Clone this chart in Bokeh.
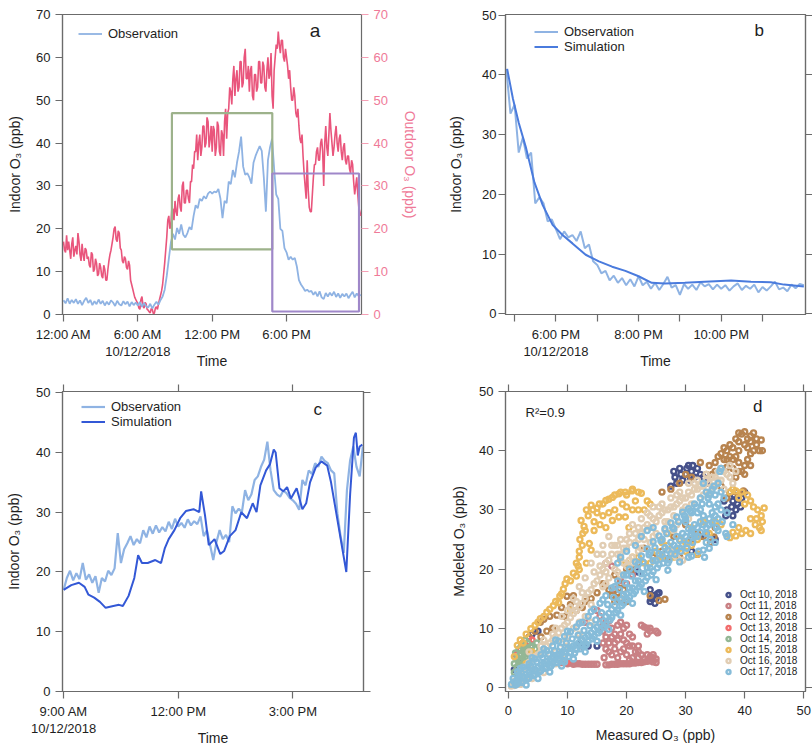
from bokeh.plotting import figure
from bokeh.models import Range1d, LinearAxis, FixedTicker, Legend, LegendItem, Label
from bokeh.layouts import row, column
from bokeh.embed import file_html
from bokeh.resources import INLINE

FONT = "Liberation Sans"
C_OBS = "#8fb3e3"
C_SIM_B = "#4a7bdd"
C_SIM_C = "#3358d6"
C_OUT = "#e9557c"
C_OUT_AX = "#ef7a98"
C_GREEN = "#9db28b"
C_PURPLE = "#9f87c9"
C_FRAME = "#6b6b6b"
C_TEXT = "#1e1e1e"

# ---------------- data ----------------
# panel a: indoor, 10-minute samples from 12:00 AM (hours), Oct 12 2018
a_in_step_h = 1.0 / 6.0
indoor_a = [
    3.3, 2.6, 3.8, 2.5, 3.4, 2.7,
    3.6, 2.5, 3.3, 2.2, 3.2, 3.9,
    2.7, 3.4, 2.2, 3.1, 2.4, 3.5,
    2.5, 3.2, 2.1, 3.0, 2.3, 3.3,
    2.8, 2.0, 3.2, 2.4, 2.1, 3.1,
    2.4, 3.0, 1.9, 2.9, 2.2, 2.8,
    2.1, 2.9, 1.8, 2.7, 1.9, 1.6,
    2.5, 1.4, 2.3, 3.0, 2.3, 3.4,
    4.2, 5.8, 9.0, 13.0, 16.8, 18.8,
    17.5, 20.2, 18.8, 21.0, 18.6, 18.0,
    19.0, 20.4, 19.8, 23.0, 25.5, 24.8,
    27.0, 26.5, 27.6, 27.0, 28.2, 28.7,
    28.2, 28.7, 28.5, 29.3, 27.0, 22.5,
    26.5, 26.0, 31.0, 30.4, 33.7, 32.0,
    35.4, 38.0, 41.5, 34.5, 32.6, 33.0,
    32.0, 30.5, 35.4, 37.0, 38.2, 39.3,
    38.2, 32.0, 24.0, 36.0, 39.0, 41.0,
    34.0, 28.0, 27.0, 20.0, 19.5, 15.5,
    14.5, 12.8, 13.5, 12.8, 13.2, 11.2,
    8.0, 7.0, 6.3, 5.5, 5.8, 5.3,
    5.5, 4.6, 5.3, 4.2, 5.4, 4.0,
    3.6, 5.0, 4.2, 5.1, 4.4, 5.3,
    4.1, 4.9, 3.9, 4.8, 4.2, 4.9,
    3.8, 4.6, 5.3, 4.0, 4.9, 4.3,
    4.6]
# panel a: outdoor, 5-minute samples from 12:00 AM
a_out_step_h = 1.0 / 12.0
outdoor_a = [
    17, 15, 14.5, 18.5, 15, 17, 15, 13, 16.5, 18, 13.5, 15,
    16, 14, 19, 17, 14, 12.5, 16.5, 14, 12.5, 15.5, 15, 13,
    13.5, 11.5, 11, 14.5, 14, 10, 10.5, 13, 12, 9, 9.5, 12,
    11, 9, 8.5, 11.5, 10.5, 8, 8, 10.5, 12.5, 14, 15, 16.5,
    18, 20, 20.5, 17.5, 17, 19.5, 19, 15.5, 15, 12.5, 12, 13.5,
    13, 11, 10.5, 12.5, 11.5, 8, 7, 6, 5, 4, 3.5, 3,
    2.5, 1.5, 1.2, 3.5, 4.2, 2, 1.5, 2.8, 2.5, 1.2, 1.0, 0.6,
    0.4, 1.4, 1.2, 0.2, 0.3, 1.5, 1.8, 1.2, 2.5, 3.5, 4.5, 5.5,
    7, 9.5, 12, 15, 18, 22, 23, 20, 21, 25, 24.5, 22,
    26.5, 24, 23, 27, 28, 25, 24, 30, 31, 26, 26, 29,
    29, 27, 26, 31, 31, 35, 34, 38, 38, 42, 36, 40,
    42, 37, 39, 44, 44, 39, 40, 46, 45, 39, 41, 44,
    38, 44, 43, 37, 39, 45, 44, 38, 37, 43, 42, 37,
    45, 48, 41, 47, 48, 53, 52, 49, 55, 58, 51, 55,
    57, 52, 53, 59, 59, 53, 54, 60, 62, 55, 55, 58,
    52, 57, 58, 51, 50, 56, 56, 52, 53, 59, 59, 54,
    54, 59, 58, 53, 52, 57, 60, 55, 56, 61, 51, 48,
    57, 60, 63, 62, 66, 63, 61, 64, 64, 60, 59, 62,
    60, 58, 55, 57, 53, 50, 50, 53, 51, 47, 46, 48,
    44, 41, 40, 42, 37, 33, 30, 27, 36, 29, 25, 24,
    24, 28, 32, 35, 35, 38, 39, 36, 36, 40, 41, 38,
    30, 40, 44, 39, 37, 42, 47, 43, 40, 37, 39, 42,
    44, 40, 38, 41, 42, 38, 36, 39, 40, 36, 35, 37,
    37, 34, 33, 36, 35, 31, 28, 30, 32, 28, 25, 24,
    23]
# highlighted windows (panel c window, panel b window)
box_left = [8.75, 16.85]
box_right = [16.85, 23.85]
box_bottom = [15.2, 0.7]
box_top = [47.0, 32.9]

# panel b: observation, 6-minute samples from 16.8 h
b_start_h = 16.8
b_step_h = 0.1
obs_b = [41, 33.5, 35, 27, 29.5, 26, 27, 18.5, 19.5, 18.5, 15.5, 15.8, 14.2, 12.5, 13.8,
         12.8, 13.2, 12.2, 13.8, 11, 11.6, 8.8, 8.2, 6.8, 7.2, 5.6, 6.4, 5.2, 6.0, 4.8,
         5.8, 4.6, 6.3, 4.8, 5.4, 4.2, 5.2, 4.0, 5.0, 6.2, 4.4, 4.8, 3.2, 5.0, 4.2, 4.9,
         4.0, 5.3, 4.6, 5.0, 4.1, 4.9, 4.2, 4.8, 3.9, 4.6, 5.1, 4.0, 4.7, 4.2, 4.9, 3.6,
         4.5, 3.9, 4.6, 5.4, 4.1, 4.4, 3.8, 4.9, 4.3, 5.0, 4.8]
sim_b = [(16.82, 41), (16.96, 36), (17.1, 32), (17.28, 27.7), (17.48, 22), (17.68, 18.2),
         (17.92, 14.9), (18.16, 13.2), (18.4, 11.8), (18.72, 9.9), (19.04, 8.8), (19.36, 7.9),
         (19.68, 7.2), (20.0, 6.3), (20.32, 5.2), (20.64, 5.1), (21.12, 5.2), (21.6, 5.4),
         (22.24, 5.6), (22.72, 5.4), (23.2, 5.3), (23.52, 4.9), (24.0, 4.6)]

# panel c: observation, 5-minute samples from 9:00 AM
c_start_h = 9.0
c_step_h = 1.0 / 12.0
obs_c = [17.0, 19.0, 20.2, 18.6, 19.8, 18.8, 21.5, 18.7, 19.6, 18.2, 19.3, 16.5,
         19.0, 18.4, 20.2, 19.5, 20.6, 26.5, 21.5, 23.8, 24.8, 26.0, 24.5, 25.5,
         24.8, 27.0, 25.8, 27.6, 26.4, 27.8, 26.6, 27.5, 26.8, 28.4, 27.2, 28.9,
         27.6, 28.2, 27.4, 28.8, 27.8, 28.5, 28.0, 29.3, 26.0, 27.0, 24.5, 22.0,
         25.0, 27.0, 25.5, 26.2, 25.0, 31.0, 29.8, 30.6, 30.0, 33.7, 32.0, 33.0,
         35.4, 36.0, 37.6, 38.8, 41.8, 37.0, 33.7, 33.0, 32.6, 33.6, 33.2, 32.4,
         32.0, 31.4, 30.4, 35.4, 34.5, 37.0, 36.4, 38.2, 37.6, 39.3, 38.6, 38.2,
         37.0, 36.5, 29.8, 26.0, 23.2, 33.7, 38.7, 41.0, 37.6, 36.0, 41.0]
sim_c = [(9.0, 17.0), (9.2, 17.8), (9.4, 18.2), (9.55, 17.5), (9.65, 16.2), (9.8, 15.7),
         (9.95, 15.0), (10.1, 14.0), (10.3, 14.3), (10.45, 14.5), (10.55, 14.3), (10.7, 16.0),
         (10.85, 19.0), (10.95, 22.8), (11.05, 21.5), (11.2, 21.5), (11.4, 22.0), (11.55, 21.5),
         (11.65, 24.0), (11.75, 25.5), (11.9, 27.0), (12.05, 29.0), (12.2, 30.2), (12.4, 30.5),
         (12.55, 30.0), (12.6, 33.5), (12.7, 29.5), (12.8, 24.5), (12.95, 25.5), (13.1, 23.0),
         (13.2, 23.5), (13.35, 26.0), (13.5, 27.0), (13.65, 30.0), (13.8, 29.0), (13.95, 31.5),
         (14.05, 30.0), (14.15, 34.5), (14.3, 37.0), (14.4, 38.0), (14.5, 40.5), (14.55, 40.0),
         (14.65, 34.0), (14.75, 33.5), (14.85, 34.2), (14.95, 32.3), (15.1, 34.0), (15.25, 30.5),
         (15.35, 31.5), (15.45, 35.0), (15.6, 37.5), (15.75, 38.5), (15.9, 37.8), (16.0, 35.0),
         (16.2, 27.5), (16.4, 20.0), (16.5, 33.0), (16.6, 42.5), (16.65, 43.3), (16.7, 39.5),
         (16.75, 41.0), (16.82, 41.3)]

# panel d: (measured, modeled) ppb
oct10 = [(28.0, 36.5), (29.0, 37.0), (30.0, 36.0), (30.5, 37.5), (31.0, 36.5), (32.0, 37.0), (29.5, 35.0),
         (31.5, 35.5), (28.5, 34.5), (33.0, 35.5), (27.5, 34.0), (37.5, 33.0), (38.0, 31.5), (38.5, 30.0),
         (39.0, 32.5), (39.5, 32.0), (37.0, 30.0), (36.5, 31.5), (38.0, 29.0), (40.0, 33.0), (24.0, 14.5),
         (24.5, 15.5), (25.0, 15.0), (25.5, 16.0), (24.0, 16.5), (12.5, 7.0), (13.0, 7.2), (15.0, 7.0),
         (5.0, 9.5), (4.0, 9.0), (1.0, 3.0), (2.0, 4.0), (3.0, 5.0), (32.0, 22.5), (31.0, 23.0),
         (32.5, 25.5), (33.5, 26.0), (21.0, 20.0), (22.0, 19.5), (35.0, 25.0),
         (28.2, 35.5), (29.2, 36.0), (30.2, 37.0), (31.2, 37.5), (32.5, 36.0), (33.5, 34.5), (30.8, 35.0),
         (38.2, 32.5), (38.8, 31.0), (39.3, 30.5), (37.8, 30.5), (36.8, 29.0), (24.2, 15.0), (25.2, 15.8),
         (24.8, 14.2), (13.5, 7.0), (12.0, 7.2)]
oct11 = [(9.0, 4.2), (10.0, 4.0), (11.0, 3.9), (12.0, 4.0), (13.0, 3.9), (14.0, 3.9), (15.0, 3.9),
         (16.5, 3.8), (17.0, 3.8), (18.0, 3.9), (19.0, 4.0), (20.0, 4.0), (21.0, 4.1), (22.0, 4.2),
         (23.0, 4.3), (24.0, 4.5), (25.0, 4.2), (24.5, 5.0), (16.0, 9.5), (16.5, 8.5), (17.0, 7.5),
         (17.5, 10.0), (18.0, 9.0), (18.5, 10.5), (19.0, 11.0), (19.5, 10.0), (20.0, 10.5), (18.0, 6.5),
         (19.0, 6.0), (20.0, 5.5), (21.0, 5.0), (22.0, 5.0), (23.0, 4.8), (24.0, 5.2), (20.5, 7.0),
         (19.5, 8.0), (17.0, 6.0), (22.0, 6.0), (23.0, 10.2), (24.0, 9.5), (25.0, 9.5), (23.5, 10.0),
         (21.0, 7.0), (19.0, 18.0), (21.0, 19.0), (15.0, 13.0), (13.0, 11.0), (17.5, 20.5),
         (16.5, 21.0), (18.5, 5.0), (20.5, 4.6),
         (16.0, 10.5), (16.5, 11.0), (17.0, 11.2), (17.5, 8.5), (18.0, 7.5), (18.5, 8.0), (19.0, 9.0),
         (19.5, 6.5), (20.0, 7.5), (20.5, 9.0), (21.0, 8.5), (21.5, 6.0), (22.0, 7.0), (22.5, 5.5),
         (23.5, 5.5), (24.5, 5.5), (25.0, 4.8), (17.5, 5.5), (16.5, 6.5), (16.0, 7.5), (24.0, 10.0),
         (25.3, 9.2), (22.5, 10.5), (23.5, 9.0), (16.2, 5.0), (10.5, 4.1), (11.5, 4.0), (12.5, 3.9),
         (13.5, 3.9), (14.5, 3.9), (17.5, 3.9), (18.5, 3.9), (19.5, 4.0), (20.5, 4.0), (21.5, 4.1),
         (22.5, 4.2), (23.5, 4.4), (24.5, 4.3), (15.5, 12.0), (18.0, 16.5), (20.0, 17.5)]
oct12 = [(34.0, 37.5), (35.0, 38.0), (36.0, 39.5), (37.0, 40.0), (37.5, 41.0), (38.0, 40.5), (38.5, 39.0),
         (39.0, 41.5), (39.5, 42.8), (40.0, 43.2), (40.5, 42.0), (41.0, 41.5), (41.5, 43.0), (42.0, 41.0),
         (42.5, 40.0), (39.0, 38.0), (40.0, 37.5), (38.0, 37.0), (37.0, 37.2), (36.5, 38.5), (41.0, 39.5),
         (39.5, 36.5), (40.5, 38.5), (38.5, 35.5), (32.5, 38.0), (31.0, 35.5), (30.0, 36.0), (29.0, 34.5),
         (27.5, 33.5), (26.0, 33.0), (26.5, 14.9), (24.0, 15.5), (25.5, 14.7), (19.0, 15.0), (18.5, 16.0),
         (20.0, 14.5), (19.5, 16.5), (18.0, 14.5), (17.5, 15.5), (5.4, 11.0), (6.0, 11.5), (7.0, 12.0),
         (8.2, 12.2), (9.0, 13.5), (9.9, 15.4), (11.0, 15.5), (12.5, 13.5), (4.5, 9.5), (3.5, 8.5),
         (21.0, 20.0), (24.5, 22.0), (26.0, 23.0), (27.0, 21.8), (29.0, 22.0), (31.0, 25.0), (32.0, 26.0),
         (35.0, 27.0), (34.2, 24.5), (34.8, 25.4), (33.0, 25.5), (30.0, 27.5), (28.0, 25.5), (37.0, 32.0),
         (38.5, 33.0), (39.8, 33.2), (36.0, 34.0),
         (35.5, 39.0), (36.5, 40.5), (37.5, 39.0), (38.5, 42.0), (39.0, 43.0), (40.0, 41.0), (41.0, 42.5),
         (42.0, 42.0), (41.5, 40.0), (40.5, 40.5), (39.0, 40.0), (38.0, 38.5), (37.0, 38.5), (36.0, 37.0),
         (35.0, 36.5), (34.5, 36.0), (33.5, 36.0), (42.8, 41.8), (43.0, 40.0), (40.0, 36.0), (41.0, 37.5),
         (39.0, 36.5), (14.0, 15.0), (15.0, 16.0), (16.0, 17.5), (18.0, 19.0), (20.0, 20.0), (22.0, 21.0),
         (23.0, 23.5), (19.0, 17.5), (17.0, 16.5), (10.5, 14.0), (11.5, 13.0), (13.0, 14.5), (7.5, 10.0),
         (6.5, 9.5), (9.5, 12.0), (5.5, 8.5)]
oct13 = [(2.5, 7.5), (3.0, 7.0), (3.5, 7.5), (2.0, 6.5), (1.3, 5.5), (3.0, 6.0), (4.0, 8.0), (9.9, 4.3)]
oct14 = [(1.0, 4.0), (1.5, 5.0), (2.0, 5.5), (2.5, 6.0), (3.0, 6.5), (2.0, 4.5), (3.0, 5.0), (3.5, 6.0),
         (1.5, 3.5), (4.0, 7.0), (2.5, 7.0), (1.0, 2.5), (3.5, 4.5), (4.5, 6.5), (2.8, 8.0),
         (1.2, 5.8), (1.8, 6.5), (2.2, 7.0), (2.8, 6.2), (3.2, 7.5), (3.8, 6.8), (1.8, 4.0), (2.5, 5.0),
         (4.2, 5.5), (4.8, 7.5)]
oct15 = [(1.0, 5.2), (1.5, 7.1), (3.8, 9.9), (5.4, 11.6), (6.5, 12.7), (7.6, 13.8), (8.5, 14.3), (8.7, 15.4),
         (9.3, 16.6), (9.9, 18.3), (11.0, 19.3), (11.5, 21.0), (12.0, 22.0), (12.6, 26.0), (12.3, 28.2),
         (13.2, 30.0), (14.3, 30.0), (15.4, 31.0), (16.5, 31.6), (17.6, 32.1), (18.7, 32.7), (19.8, 33.0),
         (20.9, 33.2), (22.0, 33.0), (19.3, 31.0), (18.7, 28.8), (17.6, 28.2), (16.5, 27.0), (20.4, 27.0),
         (19.8, 28.8), (21.0, 30.0), (13.7, 24.3), (14.0, 23.2), (11.5, 18.8), (12.0, 19.9), (13.2, 21.0),
         (12.1, 25.0), (12.8, 27.2), (37.5, 33.0), (38.5, 33.2), (39.5, 33.0), (40.5, 32.5), (41.0, 31.5),
         (41.5, 30.5), (42.2, 30.0), (42.8, 29.0), (43.3, 30.3), (43.0, 28.0), (42.5, 27.0), (41.8, 27.5),
         (41.0, 26.0), (40.2, 26.5), (39.5, 26.0), (38.5, 25.6), (38.0, 26.2), (37.5, 25.3), (42.8, 26.5),
         (24.0, 21.0), (26.0, 22.0), (28.0, 22.0), (29.0, 23.5), (30.0, 23.0), (31.0, 24.0), (32.0, 25.0),
         (27.0, 24.0), (25.0, 23.0), (22.0, 22.0), (20.0, 21.0), (2.0, 2.0), (3.0, 4.0), (4.0, 6.0),
         (10.5, 13.0), (14.5, 26.5), (15.0, 29.5), (16.0, 29.0),
         (13.5, 29.0), (14.0, 30.8), (15.0, 30.3), (16.0, 31.0), (17.0, 31.8), (18.0, 32.5), (19.0, 33.0),
         (20.0, 32.5), (21.0, 33.5), (22.5, 32.8), (23.5, 31.5), (21.5, 31.5), (20.0, 30.5), (18.0, 30.0),
         (17.0, 29.5), (15.5, 27.5), (14.5, 28.0), (13.0, 26.5), (12.5, 24.0), (12.0, 23.0), (11.8, 20.5),
         (10.5, 18.0), (9.6, 17.5), (9.0, 15.8), (8.0, 14.5), (7.0, 13.2), (6.0, 12.0), (5.0, 11.0),
         (4.5, 10.5), (3.0, 9.0), (2.0, 8.0), (2.5, 7.5), (22.0, 30.0), (23.0, 30.0), (24.0, 31.0),
         (27.0, 26.0), (29.0, 25.0), (31.0, 27.0), (33.0, 28.0), (35.0, 28.0), (36.0, 27.5), (26.0, 24.5),
         (28.0, 23.0), (30.0, 24.5), (32.0, 22.5), (34.0, 26.0), (25.0, 21.5), (23.0, 21.0), (21.0, 22.0),
         (19.0, 21.5), (39.0, 32.0), (40.0, 31.0), (42.0, 28.5), (41.0, 28.5), (39.0, 27.0), (38.0, 33.5)]
oct16 = [(1, 1), (2, 2.5), (3, 3.5), (4, 4.8), (5, 5.5), (6, 6.5), (7, 7.5), (8, 8.5), (9, 10), (10, 11),
         (11, 12.5), (12, 13.5), (13, 15), (14, 16.5), (15, 18), (15.5, 20.5), (16, 22.5), (16.5, 19.5),
         (17, 21.5), (17.5, 24), (18, 20), (18.5, 22.5), (19, 25), (19.5, 21), (20, 23.5), (20.5, 26),
         (21, 22), (21.5, 24.5), (22, 27), (22.5, 28.5), (23, 25), (23.5, 29.5), (24, 27), (24.5, 30.5),
         (25, 26), (25.5, 29), (26, 31), (26.5, 28), (27, 30), (27.5, 32), (28, 29), (28.5, 31), (29, 33),
         (29.5, 30), (30, 32), (30.5, 34.5), (31, 31), (31.5, 33.5), (32, 35), (32.5, 32), (33, 34),
         (33.5, 36), (34, 33), (34.5, 35.5), (35, 34), (35.5, 36.5), (36, 35), (37, 36), (37.5, 37.5),
         (38.5, 36.5), (38, 34.5), (36.5, 33.5), (3, 1.5), (4, 3), (5, 2.5), (6, 4), (7, 5.5), (8, 6),
         (9, 7.5), (10, 8.5), (11, 10), (12, 11), (13, 12), (14, 14), (2, 0.5), (1.5, 0.5), (12.5, 16),
         (11.5, 14.5), (10.5, 13.5), (14.5, 19.5), (28, 26.5), (26, 25), (24, 24.5), (22, 23), (3.5, 6),
         (5.5, 7), (7.5, 9), (16, 17), (18, 17), (28.5, 22), (29.5, 21.5), (27.5, 23),
         (6, 8), (8, 10), (9, 12), (10, 13), (11, 15), (12, 17), (13, 18.5), (14, 21), (15, 22.5), (16, 24),
         (17, 25.5), (16, 20), (17, 18.5), (18, 24), (19, 22.5), (20, 25), (21, 27.5), (19, 19), (20, 20.5),
         (21, 21), (22, 25), (23, 27), (24, 29), (25, 28), (26, 29.5), (27, 28), (28, 30.5), (29, 31.5),
         (30, 30.5), (31, 32.5), (32, 33.5), (33, 32.5), (34, 34.5), (35, 35.5), (36, 36.5), (8, 4),
         (10, 7), (12, 9), (14, 11), (4, 1.5), (6, 2.5), (1, 0.3), (2.5, 1.2), (3.5, 2), (7, 3.5), (9, 5),
         (0.5, 0.2),
         (2.5, 3.0), (3.5, 4.2), (4.5, 5.2), (5.5, 6.0), (6.5, 7.0), (7.5, 8.0), (8.5, 9.2), (9.5, 10.5),
         (10.5, 11.8), (11.5, 13.0), (12.5, 14.2), (13.5, 16.0), (14.5, 17.5), (15.5, 19.0), (16.5, 21.0),
         (17.5, 22.5), (18.5, 24.0), (19.5, 23.5), (20.5, 24.5), (21.5, 26.0), (22.5, 26.0), (23.5, 27.5),
         (24.5, 28.5), (25.5, 30.5), (26.5, 30.0), (27.5, 30.5), (28.5, 32.5), (29.5, 32.0), (30.5, 33.0),
         (31.5, 34.5), (32.5, 34.0), (33.5, 35.0), (34.5, 34.0), (35.5, 35.0), (36.5, 36.5), (37.5, 35.5),
         (16.5, 17.5), (18.5, 19.5), (20.5, 21.5), (22.5, 23.5), (24.5, 25.5), (26.5, 26.5), (28.5, 27.5),
         (30.5, 28.5)]
oct17 = [(0.5, 0.5), (0.8, 1.5), (1.2, 0.4), (1.5, 1.2), (1.8, 2.2), (2.2, 0.8), (2.5, 1.8), (2.8, 3.0),
         (3.2, 1.4), (3.5, 2.5), (3.8, 3.6), (4.2, 2.0), (4.5, 3.0), (4.8, 4.3), (5.2, 2.6), (5.5, 3.8),
         (5.8, 5.0), (6.2, 3.2), (6.5, 4.4), (6.8, 5.6), (7.2, 3.6), (7.5, 5.0), (7.8, 6.2), (8.2, 4.2),
         (8.5, 5.5), (8.8, 6.8), (9.2, 4.6), (9.5, 6.0), (9.8, 7.5), (10.2, 5.2), (10.5, 6.6), (10.8, 8.2),
         (11.2, 5.8), (11.5, 7.2), (11.8, 8.8), (12.2, 6.5), (12.5, 8.0), (12.8, 9.6), (13.2, 7.3),
         (13.5, 8.8), (13.8, 10.4), (14.2, 8.2), (14.5, 9.8), (14.8, 11.4), (15.2, 9.2), (15.5, 10.8),
         (15.8, 12.6), (16.2, 10.2), (16.5, 12.0), (16.8, 14.0), (17.2, 11.4), (17.5, 13.2), (17.8, 15.2),
         (18.2, 12.6), (18.5, 14.5), (18.8, 16.5), (19.2, 13.8), (19.5, 15.6), (19.8, 17.6), (20.2, 14.8),
         (20.5, 16.8), (20.8, 18.8), (21.2, 15.8), (21.5, 18.0), (21.8, 20.0), (22.2, 17.0), (22.5, 19.2),
         (22.8, 21.2), (23.2, 18.0), (23.5, 20.2), (23.8, 22.4), (24.2, 19.0), (24.5, 21.4), (24.8, 23.6),
         (25.2, 20.2), (25.5, 22.6), (25.8, 24.8), (26.2, 21.0), (26.5, 23.6), (26.8, 26.0), (27.2, 21.5),
         (27.5, 24.5), (27.8, 27.0), (28.2, 22.5), (28.5, 25.5), (28.8, 28.0), (29.2, 23.0), (29.5, 26.0),
         (29.8, 29.0), (30.2, 23.5), (30.5, 26.8), (30.8, 29.8), (31.2, 24.5), (31.5, 27.5), (31.8, 30.5),
         (32.2, 23.0), (32.5, 28.0), (32.8, 31.0), (33.2, 22.0), (33.5, 26.0), (33.8, 32.0), (34.2, 25.0),
         (34.5, 29.5), (34.8, 34.0), (35.2, 27.0), (35.5, 31.0), (35.8, 36.5), (36.2, 28.0), (36.8, 26.0),
         (34.0, 23.5), (30.5, 22.0), (27.0, 21.0), (9.5, 4.3), (13.0, 7.0), (38.0, 27.5), (37.0, 25.5),
         (30.0, 28.0), (31.0, 29.5), (32.0, 27.0), (33.0, 29.0), (34.0, 31.0), (35.0, 29.0), (36.0, 30.0),
         (36.5, 32.0), (37.0, 29.5), (34.0, 27.5), (32.5, 30.0), (31.0, 26.0), (33.5, 24.5), (35.5, 26.5),
         (22.5, 25.5), (23.5, 26.5), (24.5, 27.0), (21.5, 24.0), (19.0, 22.0), (18.5, 21.0), (20.0, 23.0),
         (35.0, 32.5), (33.0, 34.5), (36.0, 37.0),
         (1.0, 0.9), (2.0, 1.5), (3.0, 2.2), (4.0, 2.8), (5.0, 3.4), (6.0, 4.0), (7.0, 4.6), (8.0, 5.2),
         (9.0, 5.8), (10.0, 6.5), (11.0, 7.0), (12.0, 7.6), (13.0, 8.4), (14.0, 9.2), (15.0, 10.2),
         (16.0, 11.2), (17.0, 12.5), (18.0, 13.8), (19.0, 14.8), (20.0, 15.8), (21.0, 16.8), (22.0, 18.0),
         (23.0, 19.2), (24.0, 20.2), (25.0, 21.4), (26.0, 22.4), (27.0, 23.2), (28.0, 24.0), (29.0, 24.8),
         (30.0, 25.5), (31.0, 26.5), (32.0, 25.5), (33.0, 27.5), (34.0, 28.5), (35.0, 30.5), (36.0, 33.0),
         (2.0, 3.2), (4.0, 5.0), (6.0, 6.5), (8.0, 8.0), (10.0, 9.5), (12.0, 10.8), (14.0, 12.8),
         (16.0, 14.8), (18.0, 17.0), (20.0, 19.0), (22.0, 20.8), (24.0, 22.8), (26.0, 25.0), (28.0, 26.8),
         (30.0, 28.5), (32.0, 29.5), (34.0, 32.5), (3.0, 0.4), (5.0, 1.5), (7.0, 2.6), (9.0, 3.6),
         (11.0, 4.8), (13.0, 6.0), (15.0, 7.8), (17.0, 9.8), (19.0, 12.2), (21.0, 14.2), (23.0, 16.2),
         (25.0, 18.2), (27.0, 19.8), (29.0, 21.2), (31.0, 22.2), (33.0, 23.2), (35.0, 24.5),
         (1.5, 0.6), (2.5, 1.0), (3.5, 1.6), (4.5, 2.2), (5.5, 2.8), (6.5, 3.4), (7.5, 4.0), (8.5, 4.6),
         (9.5, 5.2), (10.5, 5.8), (11.5, 6.4), (12.5, 7.0), (13.5, 7.8), (14.5, 8.6), (15.5, 9.6),
         (16.5, 10.6), (17.5, 11.8), (18.5, 13.0), (19.5, 14.2), (20.5, 15.2), (21.5, 16.2), (22.5, 17.4),
         (23.5, 18.6), (24.5, 19.6), (25.5, 20.8), (26.5, 21.8), (27.5, 22.6), (28.5, 23.5), (29.5, 24.2),
         (30.5, 24.8), (31.5, 25.6), (32.5, 26.2), (33.5, 27.0), (34.5, 27.8), (35.5, 28.5),
         (1.5, 2.6), (2.5, 3.4), (3.5, 4.0), (4.5, 4.8), (5.5, 5.5), (6.5, 6.2), (7.5, 7.0), (8.5, 7.8),
         (9.5, 8.6), (10.5, 9.4), (11.5, 10.2), (12.5, 11.0), (13.5, 12.0), (14.5, 13.2), (15.5, 14.2),
         (16.5, 15.5), (17.5, 16.8), (18.5, 18.0), (19.5, 19.0), (20.5, 20.0), (21.5, 21.2), (22.5, 22.2),
         (23.5, 23.4), (24.5, 24.6), (25.5, 25.6), (26.5, 26.8), (27.5, 27.8), (28.5, 28.8), (29.5, 29.6),
         (30.5, 30.2), (31.5, 31.0), (32.5, 32.0), (33.5, 33.0), (34.5, 33.5), (35.5, 34.5)]
d_labels = ["Oct 10, 2018", "Oct 11, 2018", "Oct 12, 2018", "Oct 13, 2018",
            "Oct 14, 2018", "Oct 15, 2018", "Oct 16, 2018", "Oct 17, 2018"]
d_colors = ["#46518a", "#c98084", "#b8844f", "#f26d6d", "#93b795", "#ecba5b", "#e1cdb3", "#86bcd9"]
d_series = [oct10, oct11, oct12, oct13, oct14, oct15, oct16, oct17]


# ---------------- helpers ----------------
def base_fig(width, height, xr, yr, mbl, mbr, mbt, mbb):
    p = figure(width=width, height=height, x_range=xr, y_range=yr,
               min_border_left=mbl, min_border_right=mbr, min_border_top=mbt, min_border_bottom=mbb,
               toolbar_location=None, output_backend="svg", title=None)
    p.xgrid.visible = False
    p.ygrid.visible = False
    p.outline_line_color = C_FRAME
    p.outline_line_width = 1.2
    return p


def style_axis(ax, ticks, overrides=None, show_labels=True, label_color=C_TEXT,
               tick_color=C_FRAME, standoff=5, label_standoff=0, tick_out=7):
    ax.ticker = FixedTicker(ticks=ticks)
    ax.minor_tick_line_color = None
    ax.minor_tick_out = 0
    ax.minor_tick_in = 0
    ax.major_tick_out = tick_out
    ax.major_tick_in = 0
    ax.major_tick_line_color = tick_color
    ax.major_tick_line_width = 1.2
    ax.axis_line_color = C_FRAME
    ax.axis_line_width = 1.2
    ax.major_label_text_font = FONT
    ax.major_label_text_font_size = "13px" if show_labels else "1px"
    ax.major_label_text_color = label_color
    ax.major_label_standoff = standoff if show_labels else 0
    ax.axis_label_text_font = FONT
    ax.axis_label_text_font_size = "14px"
    ax.axis_label_text_font_style = "normal"
    ax.axis_label_text_color = label_color
    ax.axis_label_standoff = label_standoff
    if not show_labels:
        ax.major_label_overrides = {t: "" for t in ticks}
    elif overrides is not None:
        ax.major_label_overrides = overrides


def mirror(p, side, ticks, **kw):
    ax = LinearAxis(**kw)
    style_axis(ax, ticks, show_labels=False)
    p.add_layout(ax, side)


def date_axis(p, tick, text):
    # second, stacked bottom axis carrying the date line and the "Time" title
    ax = LinearAxis(axis_label="Time")
    style_axis(ax, [tick], {tick: text}, standoff=-1, label_standoff=-9, tick_out=0)
    ax.axis_line_color = None
    ax.major_tick_line_color = None
    p.add_layout(ax, "below")


def make_legend(items, loc, glyph_w=24, font="13px", row_h=15, spacing=0, standoff=6):
    lg = Legend(items=items, location=loc, orientation="vertical")
    lg.glyph_width = glyph_w
    lg.glyph_height = row_h
    lg.label_height = row_h
    lg.label_text_font = FONT
    lg.label_text_font_size = font
    lg.label_text_color = C_TEXT
    lg.label_standoff = standoff
    lg.spacing = spacing
    lg.padding = 0
    lg.margin = 0
    lg.border_line_color = None
    lg.background_fill_alpha = 0
    return lg


def tag(p, x, y, text, size="17px", align="center", **kw):
    p.add_layout(Label(x=x, y=y, text=text, text_font=FONT, text_font_size=size,
                       text_color=C_TEXT, text_align=align, text_baseline="middle", **kw))


y_ticks50 = [0, 10, 20, 30, 40, 50]
FH = 300  # frame height of every panel

# ---------------- panel a ----------------
pa = base_fig(420, 372, Range1d(-0.08, 24.05), Range1d(0, 70), 62, 57, 14, 58)
t_in = [i * a_in_step_h for i in range(len(indoor_a))]
t_out = [i * a_out_step_h for i in range(len(outdoor_a))]
pa.extra_y_ranges = {"out": Range1d(0, 70)}
style_axis(pa.xaxis[0], [0, 6, 12, 18],
           {0: "12:00 AM", 6: "6:00 AM", 12: "12:00 PM", 18: "6:00 PM"})
date_axis(pa, 6, "10/12/2018")
style_axis(pa.yaxis[0], [0, 10, 20, 30, 40, 50, 60, 70], standoff=5, label_standoff=10)
pa.yaxis[0].axis_label = "Indoor O₃ (ppb)"
ax_out = LinearAxis(y_range_name="out", axis_label="Outdoor O₃ (ppb)")
style_axis(ax_out, [0, 10, 20, 30, 40, 50, 60, 70], label_color=C_OUT_AX, tick_color="#f5a0b5",
           standoff=5, label_standoff=11)
ax_out.axis_line_color = None
pa.add_layout(ax_out, "right")
pa.line(t_out, outdoor_a, y_range_name="out", line_color=C_OUT, line_width=1.6)
r_obs_a = pa.line(t_in, indoor_a, line_color=C_OBS, line_width=1.8)
pa.quad(left=box_left, right=box_right, bottom=box_bottom, top=box_top,
        fill_color=None, line_color=[C_GREEN, C_PURPLE], line_width=2.2)
pa.add_layout(make_legend([LegendItem(label="Observation", renderers=[r_obs_a])], (16, FH - 27)))
tag(pa, 20.3, 66.3, "a", size="19px")

# ---------------- panel b ----------------
pb = base_fig(392, 372, Range1d(16.78, 24.04), Range1d(-0.1, 50.1), 85, 7, 14, 58)
t_b = [b_start_h + i * b_step_h for i in range(len(obs_b))]
style_axis(pb.xaxis[0], [17, 18, 19, 20, 21, 22, 23],
           {17: "", 18: "6:00 PM", 19: "", 20: "8:00 PM", 21: "", 22: "10:00 PM", 23: ""})
date_axis(pb, 18, "10/12/2018")
style_axis(pb.yaxis[0], y_ticks50, standoff=2, label_standoff=15)
pb.yaxis[0].axis_label = "Indoor O₃ (ppb)"
mirror(pb, "right", y_ticks50)
r_obs_b = pb.line(t_b, obs_b, line_color=C_OBS, line_width=2.0)
r_sim_b = pb.line([s[0] for s in sim_b], [s[1] for s in sim_b], line_color=C_SIM_B, line_width=2.0)
pb.add_layout(make_legend([LegendItem(label="Observation", renderers=[r_obs_b]),
                           LegendItem(label="Simulation", renderers=[r_sim_b])], (29, FH - 40)))
tag(pb, 22.92, 47.4, "b")

# ---------------- panel c ----------------
pc = base_fig(420, 377, Range1d(8.97, 16.85), Range1d(0, 50.2), 62, 57, 19, 58)
t_c = [c_start_h + i * c_step_h for i in range(len(obs_c))]
style_axis(pc.xaxis[0], [9, 12, 15], {9: "9:00 AM", 12: "12:00 PM", 15: "3:00 PM"})
date_axis(pc, 9, "10/12/2018")
style_axis(pc.yaxis[0], y_ticks50, standoff=5, label_standoff=11)
pc.yaxis[0].axis_label = "Indoor O₃ (ppb)"
mirror(pc, "right", y_ticks50)
mirror(pc, "above", [9, 12, 15])
r_obs_c = pc.line(t_c, obs_c, line_color=C_OBS, line_width=2.2)
r_sim_c = pc.line([s[0] for s in sim_c], [s[1] for s in sim_c], line_color=C_SIM_C, line_width=2.0)
pc.add_layout(make_legend([LegendItem(label="Observation", renderers=[r_obs_c]),
                           LegendItem(label="Simulation", renderers=[r_sim_c])], (19, FH - 38)))
tag(pc, 15.65, 47.2, "c")

# ---------------- panel d ----------------
pd_ = base_fig(392, 377, Range1d(-0.5, 50.3), Range1d(-0.7, 50.0), 85, 7, 19, 58)
style_axis(pd_.xaxis[0], y_ticks50, standoff=7, label_standoff=9)
pd_.xaxis[0].axis_label = "Measured O₃ (ppb)"
style_axis(pd_.yaxis[0], y_ticks50, standoff=5, label_standoff=9)
pd_.yaxis[0].axis_label = "Modeled O₃ (ppb)"
mirror(pd_, "right", y_ticks50)
mirror(pd_, "above", y_ticks50)
d_items = []
for lab, col, pts in zip(d_labels, d_colors, d_series):
    r = pd_.scatter([q[0] for q in pts], [q[1] for q in pts], marker="circle", size=5,
                    fill_color=None, line_color=col, line_width=2.4)
    d_items.append(LegendItem(label=lab, renderers=[r]))
pd_.add_layout(make_legend(d_items, (218, 14), glyph_w=10, font="10px", row_h=11, spacing=0, standoff=7))
tag(pd_, 42.2, 47.4, "d")
tag(pd_, 2.9, 46.5, "R²=0.9", size="13px", align="left")

layout = column(row(pa, pb), row(pc, pd_))
open("out.html", "w").write(file_html(layout, INLINE))
